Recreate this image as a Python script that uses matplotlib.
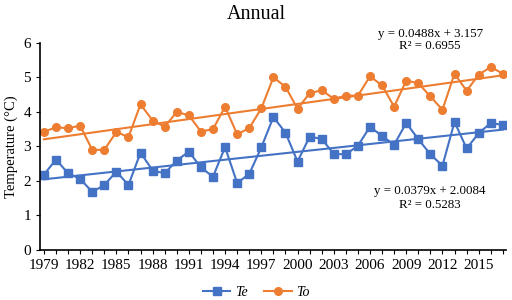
import matplotlib
matplotlib.use('Agg')
import matplotlib.pyplot as plt
import numpy as np

plt.rcParams['font.family'] = ['Liberation Serif', 'DejaVu Serif']

years = list(range(1979, 2018))
te = [2.18, 2.62, 2.22, 2.06, 1.68, 1.88, 2.27, 1.88, 2.82, 2.30,
      2.22, 2.59, 2.85, 2.39, 2.12, 2.98, 1.94, 2.20, 2.97, 3.85,
      3.40, 2.56, 3.28, 3.22, 2.78, 2.77, 3.02, 3.57, 3.30, 3.05,
      3.68, 3.21, 2.77, 2.44, 3.71, 2.94, 3.38, 3.68, 3.62]
to = [3.43, 3.55, 3.53, 3.60, 2.90, 2.90, 3.42, 3.27, 4.22, 3.75,
      3.57, 4.00, 3.90, 3.43, 3.50, 4.15, 3.35, 3.53, 4.10, 5.00,
      4.73, 4.09, 4.54, 4.63, 4.38, 4.47, 4.47, 5.03, 4.77, 4.15,
      4.91, 4.83, 4.45, 4.06, 5.11, 4.61, 5.08, 5.30, 5.11]
te_fit = (0.0379, 2.0084, 0.5283)
to_fit = (0.0488, 3.157, 0.6955)

blue = '#4472C4'
orange = '#ED7D31'

x = np.arange(1, len(years) + 1)

fig = plt.figure(figsize=(5.12, 3.0), dpi=100)
ax = fig.add_axes([0.078, 0.167, 0.910, 0.690])

ax.plot(x, te, color=blue, marker='s', markersize=5.5, linewidth=1.5, label='Te')
ax.plot(x, to, color=orange, marker='o', markersize=5.5, linewidth=1.5, label='To')
ax.plot(x, te_fit[0] * x + te_fit[1], color=blue, linewidth=1.5)
ax.plot(x, to_fit[0] * x + to_fit[1], color=orange, linewidth=1.5)

ax.set_xlim(0.67, 39.25)
ax.set_ylim(0, 6)
ax.set_yticks(range(0, 7))
ax.set_xticks(x)
ax.set_xticklabels([str(y) if (y - 1979) % 3 == 0 else '' for y in years])
ax.tick_params(axis='both', labelsize=11, direction='out', length=3, width=0.8)
for s in ['top', 'right']:
    ax.spines[s].set_visible(False)
for s in ['left', 'bottom']:
    ax.spines[s].set_linewidth(1.2)

ax.set_ylabel('Temperature (°C)', fontsize=10.5, labelpad=4)
fig.text(0.5, 0.953, 'Annual', ha='center', va='center', fontsize=14.5)

fig.text(0.84, 0.885, 'y = %.4fx + %.3f' % (to_fit[0], to_fit[1]), ha='center', va='center', fontsize=9.3)
fig.text(0.84, 0.848, 'R² = %.4f' % to_fit[2], ha='center', va='center', fontsize=9.3)
fig.text(0.84, 0.363, 'y = %.4fx + %.4f' % (te_fit[0], te_fit[1]), ha='center', va='center', fontsize=9.3)
fig.text(0.84, 0.317, 'R² = %.4f' % te_fit[2], ha='center', va='center', fontsize=9.3)

leg = fig.legend(loc='center', bbox_to_anchor=(0.5, 0.025), ncol=2, frameon=False,
                 fontsize=10, handlelength=2.0, columnspacing=1.2, handletextpad=0.3)
for t in leg.get_texts():
    t.set_fontstyle('italic')

fig.savefig('out.png', dpi=100)
